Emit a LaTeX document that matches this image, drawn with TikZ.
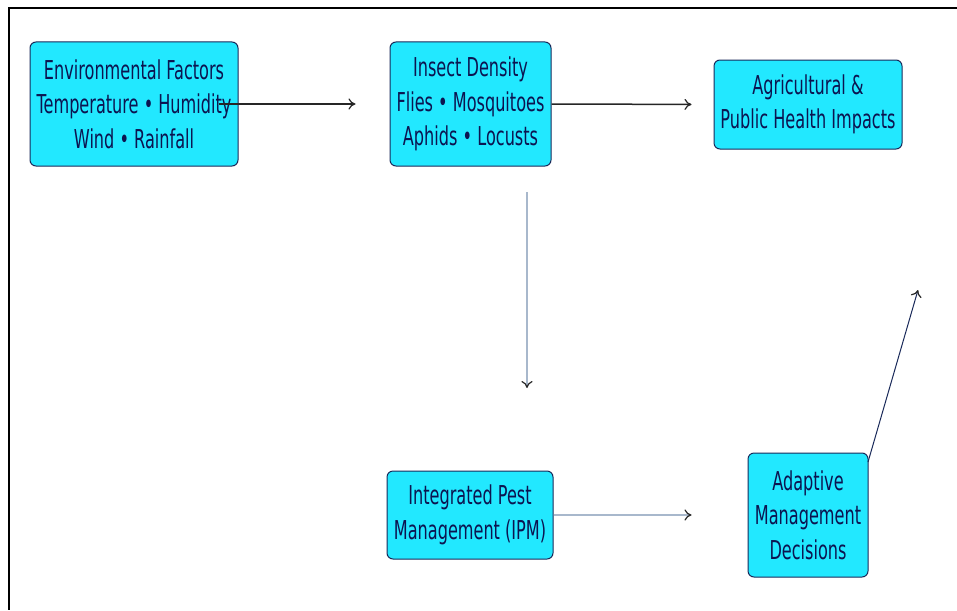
\documentclass[tikz,border=0pt]{standalone}
\usepackage{fontspec}
\setmainfont{DejaVu Sans}[FakeStretch=0.62]
\usetikzlibrary{arrows.meta}
\definecolor{boxfill}{HTML}{22E8FF}
\definecolor{boxline}{HTML}{1A2A5A}
\definecolor{txt}{HTML}{0C1450}
\definecolor{pale}{HTML}{A8B8CC}
\begin{document}
\begin{tikzpicture}[x=1pt,y=-1pt,
  box/.style={draw=boxline, line width=1pt, fill=boxfill, rounded corners=6pt,
    inner sep=0pt, align=center, text=txt,
    font=\fontsize{26}{34.5}\selectfont},
  tip/.style={-{To[length=7pt,width=11pt,line width=1.2pt,color=black!85]}},
  darkline/.style={tip, draw=black!85, line width=1.5pt},
  paleline/.style={tip, draw=pale, line width=1.3pt},
  thinline/.style={tip, draw=boxline, line width=1pt}]
\useasboundingbox (0,0) rectangle (957,610);
\fill[white] (0,0) rectangle (957,610);
\draw[line width=2pt, black] (957,8) -- (9,8) -- (9,610);

\node[box, minimum width=208pt, minimum height=124pt] (env) at (134,104)
  {Environmental Factors\\Temperature • Humidity\\Wind • Rainfall};
\node[box, minimum width=161pt, minimum height=124pt] (ins) at (470.5,104)
  {Insect Density\\Flies • Mosquitoes\\Aphids • Locusts};
\node[box, minimum width=188pt, minimum height=89pt] (agr) at (808,104.5)
  {Agricultural \&\\Public Health Impacts};
\node[box, minimum width=166pt, minimum height=88pt] (ipm) at (470,515)
  {Integrated Pest\\Management (IPM)};
\node[box, minimum width=120pt, minimum height=124pt] (ada) at (808,515)
  {Adaptive\\Management\\Decisions};

\coordinate (d1) at (527,192);
\coordinate (d2) at (527,388);
\coordinate (u1) at (868,462);
\coordinate (u2) at (918,290);

\draw[darkline, shorten <=-20pt, shorten >=34pt] (env.east) -- (ins.west);
\draw[darkline, shorten >=22pt] (ins.east) -- (agr.west);
\draw[paleline] (d1) -- (d2);
\draw[paleline, shorten >=56pt] (ipm.east) -- (ada.west);
\draw[thinline] (u1) -- (u2);
\end{tikzpicture}
\end{document}
